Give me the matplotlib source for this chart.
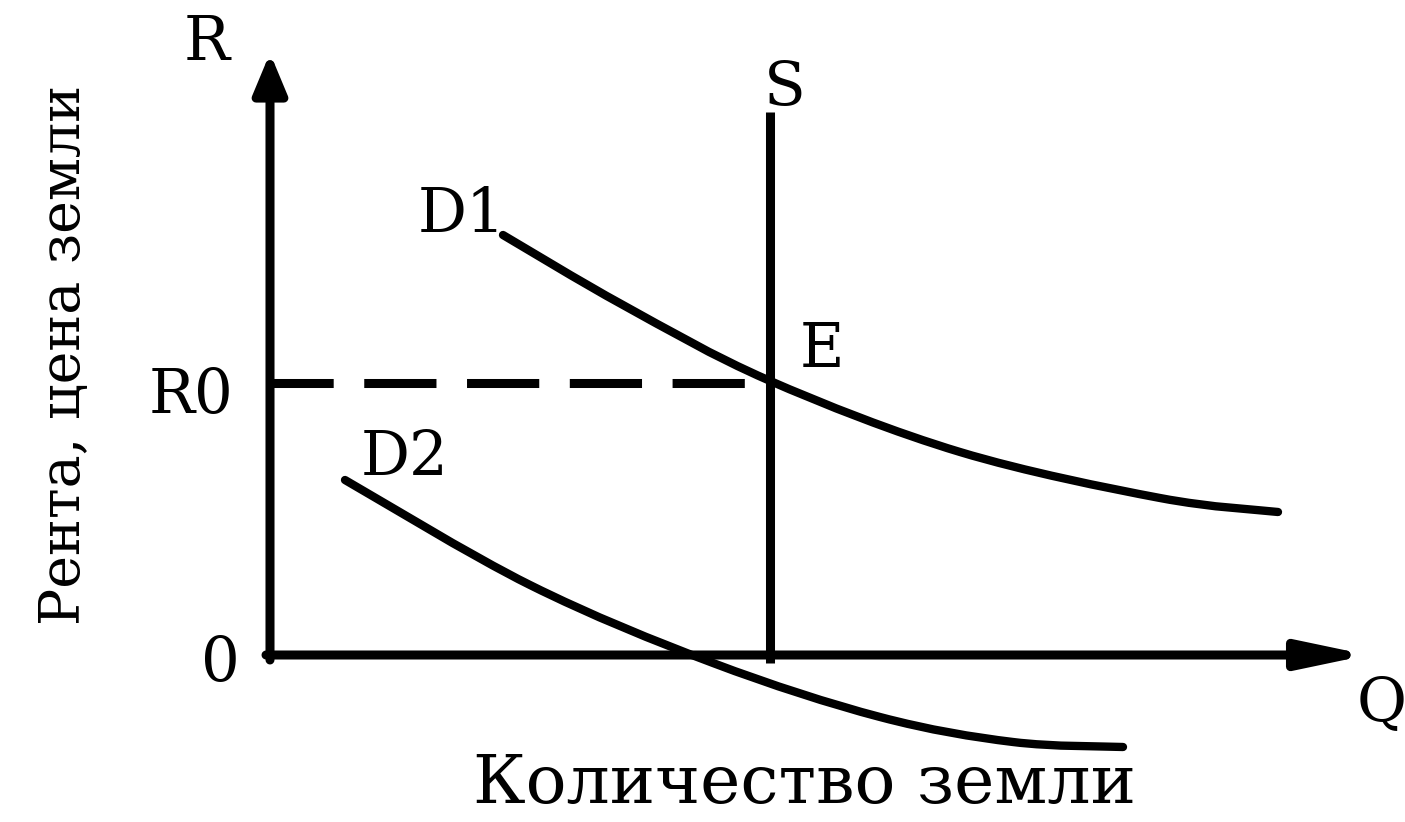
import matplotlib.pyplot as plt
import numpy as np
from matplotlib.path import Path
from matplotlib.patches import PathPatch

plt.rcParams['font.family'] = ['DejaVu Serif']
plt.rcParams['lines.scale_dashes'] = False

# demand curves (quantity, rent)
q_d1 = [2.33, 3.53, 4.98, 6.90, 8.90, 10.08]
r_d1 = [4.20, 3.50, 2.75, 2.03, 1.57, 1.43]

q_d2 = [0.75, 2.60, 4.43, 6.10, 7.43, 8.53]
r_d2 = [1.75, 0.70, -0.08, -0.62, -0.87, -0.92]

# fixed land supply and equilibrium rent
q_supply = 5.0
s_range = [-0.08, 5.43]
r0 = 2.72

# axis lengths
q_max = 10.98
r_max = 6.02


def smooth_path(xs, ys):
    # catmull-rom through the read points, drawn as cubic bezier pieces
    pts = np.column_stack([xs, ys])
    verts = [pts[0]]
    codes = [Path.MOVETO]
    for i in range(len(pts) - 1):
        p0 = pts[i - 1] if i > 0 else pts[i]
        p1 = pts[i]
        p2 = pts[i + 1]
        p3 = pts[i + 2] if i + 2 < len(pts) else pts[i + 1]
        verts += [p1 + (p2 - p0) / 6, p2 - (p3 - p1) / 6, p2]
        codes += [Path.CURVE4] * 3
    return Path(verts, codes)


fig = plt.figure(figsize=(14.05, 8.22), dpi=100)
ax = fig.add_axes([0, 0, 1, 1])
ax.set_xlim(-2.70, 11.35)
ax.set_ylim(-1.67, 6.55)
ax.axis('off')

lw = 6.5
ax.annotate('', xy=(0, r_max), xytext=(0, -0.05),
            arrowprops=dict(arrowstyle='-|>,head_length=1.2,head_width=0.5', lw=lw, color='k',
                            shrinkA=0, shrinkB=0, mutation_scale=20))
ax.annotate('', xy=(q_max, 0), xytext=(-0.04, 0),
            arrowprops=dict(arrowstyle='-|>,head_length=2.0,head_width=0.42', lw=lw, color='k',
                            shrinkA=0, shrinkB=0, mutation_scale=20))

ax.plot([q_supply, q_supply], s_range, color='k', lw=lw, solid_capstyle='butt')
ax.plot([0, q_supply], [r0, r0], color='k', lw=lw, linestyle=(6.5, (52, 22)))

for qs, rs in [(q_d1, r_d1), (q_d2, r_d2)]:
    ax.add_patch(PathPatch(smooth_path(qs, rs), facecolor='none', edgecolor='k', lw=6,
                           capstyle='round', joinstyle='round'))

fs = 44
ax.text(-0.63, 5.95, 'R', fontsize=fs, ha='center', va='baseline')
ax.text(5.15, 5.50, 'S', fontsize=fs, ha='center', va='baseline')
ax.text(1.92, 4.23, 'D1', fontsize=fs, ha='center', va='baseline')
ax.text(5.52, 2.88, 'E', fontsize=fs, ha='center', va='baseline')
ax.text(-0.79, 2.43, 'R0', fontsize=fs, ha='center', va='baseline')
ax.text(1.35, 1.80, 'D2', fontsize=fs, ha='center', va='baseline')
ax.text(-0.50, -0.25, '0', fontsize=fs, ha='center', va='baseline')
ax.text(11.12, -0.67, 'Q', fontsize=fs, ha='center', va='baseline')

ax.text(5.35, -1.48, 'Количество земли', fontsize=49, ha='center', va='baseline')
ax.text(-1.90, 3.00, 'Рента, цена земли', fontsize=40, ha='center', va='baseline',
        rotation=90, rotation_mode='anchor')

fig.savefig('out.png', dpi=100)
